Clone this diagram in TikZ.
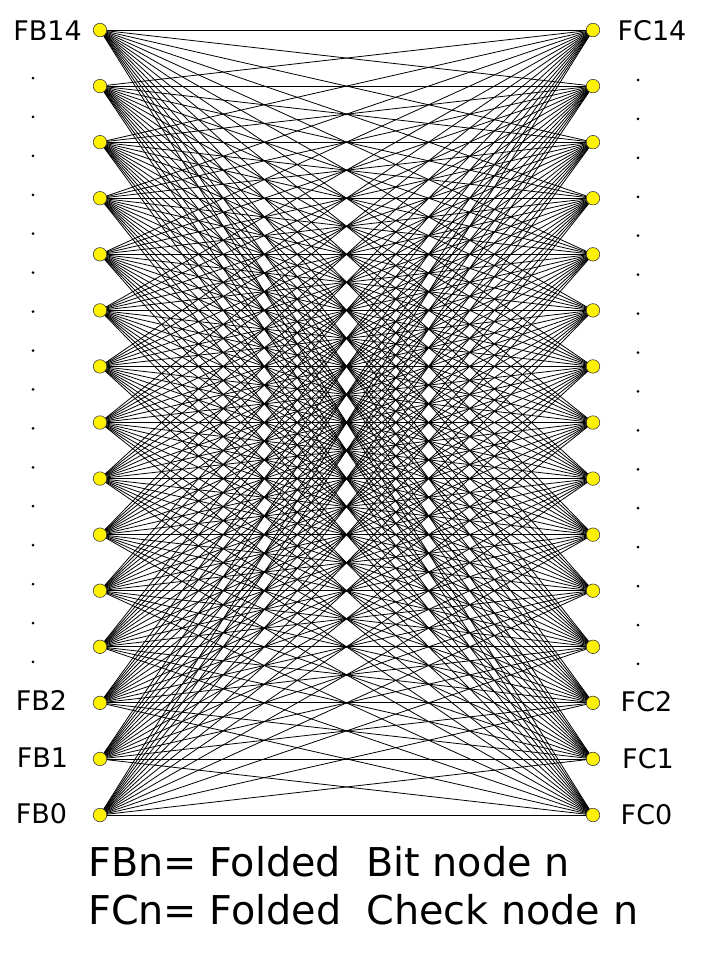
\documentclass[tikz,border=0pt]{standalone}
\usepackage{fontspec}
\setmainfont{DejaVu Sans}
\usetikzlibrary{backgrounds}
\begin{document}
\begin{tikzpicture}[x=1pt,y=-1pt,
  vertex/.style={draw=black!75, fill=yellow, circle, inner sep=0pt, minimum size=13.5pt, line width=0.6pt},
  edge/.style={black, line width=0.8pt},
  lbl/.style={font=\fontsize{27}{27}\selectfont, inner sep=0pt},
  legend/.style={font=\fontsize{39.7}{48}\selectfont, anchor=base west, inner sep=0pt}]
\useasboundingbox (0,0) rectangle (705,956);

% bit nodes and check nodes
\foreach \i in {0,...,14} {
  \node[vertex] (fb\i) at (100,{815-56.07*\i}) {};
  \node[vertex] (fc\i) at (593,{815-56.07*\i}) {};
}

% every bit node joined to every check node
\begin{scope}[on background layer]
\foreach \i in {0,...,14}
  \foreach \j in {0,...,14}
    \draw[edge] (fb\i.center) -- (fc\j.center);
\end{scope}

% labels
\node[lbl] (lb14) at (47.5,30.3) {FB14};
\node[lbl] (lb2) at (41.5,700) {FB2};
\node[lbl] (lb1) at (42.5,758) {FB1};
\node[lbl] (lb0) at (41.5,814) {FB0};
\node[lbl] (lc14) at (652,31) {FC14};
\node[lbl] (lc2) at (646.5,702) {FC2};
\node[lbl] (lc1) at (648,759) {FC1};
\node[lbl] (lc0) at (646.5,815) {FC0};

% dots
\foreach \k in {0,...,15} {
  \fill (33,{78+38.93*\k}) circle (1.5pt);
  \fill (638,{80+38.93*\k}) circle (1.5pt);
}

% legend
\node[legend] (leg1) at (88,876.7) {FBn= Folded\ \ Bit node n};
\node[legend] (leg2) at (88,924.3) {FCn= Folded\ \ Check node n};
\end{tikzpicture}
\end{document}
